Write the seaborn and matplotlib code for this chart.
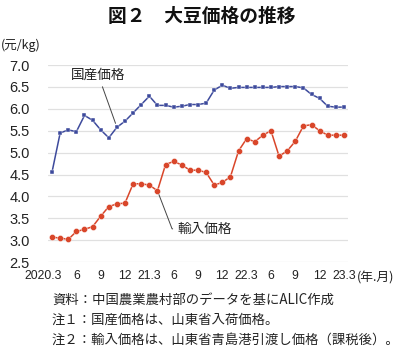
import numpy as np
import pandas as pd
import matplotlib
matplotlib.use("Agg")
import matplotlib.pyplot as plt
import matplotlib.transforms as mtransforms
import seaborn as sns

# ---- data ----
tick_labels = ["2020.3", "6", "9", "12", "21.3", "6", "9", "12",
               "22.3", "6", "9", "12", "23.3"]
domestic = [4.56, 5.45, 5.52, 5.48, 5.85, 5.74, 5.52, 5.34, 5.58, 5.72,
            5.91, 6.10, 6.29, 6.08, 6.08, 6.04, 6.06, 6.10, 6.10, 6.13,
            6.43, 6.54, 6.47, 6.49, 6.49, 6.49, 6.49, 6.49, 6.51, 6.51,
            6.51, 6.48, 6.33, 6.24, 6.06, 6.04, 6.04]
imported = [3.07, 3.05, 3.02, 3.20, 3.25, 3.31, 3.55, 3.77, 3.83, 3.85,
            4.29, 4.29, 4.26, 4.13, 4.73, 4.80, 4.72, 4.60, 4.60, 4.55,
            4.26, 4.32, 4.45, 5.04, 5.32, 5.25, 5.40, 5.50, 4.92, 5.04,
            5.26, 5.61, 5.64, 5.50, 5.40, 5.40, 5.40]
series_names = ["国産価格", "輸入価格"]
y_ticks = [2.5, 3.0, 3.5, 4.0, 4.5, 5.0, 5.5, 6.0, 6.5, 7.0]

title = "図２　大豆価格の推移"
unit_label = "(元/kg)"
x_unit = "(年.月)"
notes = ["資料：中国農業農村部のデータを基にALIC作成",
         "注１：国産価格は、山東省入荷価格。",
         "注２：輸入価格は、山東省青島港引渡し価格（課税後）。"]

BLUE = "#3d4a9c"
RED = "#d9462a"
JP = ["Noto Sans CJK JP", "DejaVu Sans"]

sns.set_theme(style="white")
plt.rcParams["font.family"] = ["Liberation Sans", "Noto Sans CJK JP", "DejaVu Sans"]

n = len(domestic)
idx = np.arange(n)
df = pd.DataFrame({
    "month": np.concatenate([idx, idx]),
    "price": domestic + imported,
    "series": [series_names[0]] * n + [series_names[1]] * n,
})

fig = plt.figure(figsize=(4, 3.5), dpi=100)
ax = fig.add_axes([0.12, 0.251, 0.75, 0.563])

sns.lineplot(data=df[df.series == series_names[0]], x="month", y="price",
             color=BLUE, marker="s", markersize=3.3, linewidth=1.1,
             markeredgecolor="white", markeredgewidth=0.3, ax=ax, legend=False)
sns.lineplot(data=df[df.series == series_names[1]], x="month", y="price",
             color=RED, marker="o", markersize=4.4, linewidth=1.1,
             markeredgecolor="white", markeredgewidth=0.3, ax=ax, legend=False)

ax.set_xlim(-0.5, n - 0.5)
ax.set_ylim(y_ticks[0], y_ticks[-1])
ax.set_xticks(idx[::3])
ax.set_xticklabels(tick_labels, fontsize=8.8, color="#222222")
ax.set_yticks(y_ticks)
ax.set_yticklabels([f"{v:.1f}" for v in y_ticks], fontsize=10.5, color="#222222")
ax.tick_params(axis="both", length=0)
ax.tick_params(axis="y", pad=13)
ax.tick_params(axis="x", pad=6)
ax.set_xlabel("")
ax.set_ylabel("")
ax.yaxis.grid(True, color="#e0e0e0", linewidth=0.9)
ax.xaxis.grid(False)
ax.set_axisbelow(True)
for s in ax.spines.values():
    s.set_visible(False)

# shift first x label slightly left as in reference
lab0 = ax.get_xticklabels()[0]
lab0.set_transform(lab0.get_transform() +
                   mtransforms.ScaledTranslation(-9 / 100, 0, fig.dpi_scale_trans))

# annotations
ax.annotate(series_names[0], xy=(8, domestic[8]), xytext=(5.7, 6.77),
            ha="center", va="center", fontsize=9.8, family=JP, color="#222222",
            arrowprops=dict(arrowstyle="-", color="#444444", lw=0.7,
                            shrinkA=1, shrinkB=3))
ax.annotate(series_names[1], xy=(13, imported[13]), xytext=(15.45, 3.26),
            ha="left", va="center", fontsize=9.8, family=JP, color="#222222",
            arrowprops=dict(arrowstyle="-", color="#444444", lw=0.7,
                            connectionstyle="angle,angleA=0,angleB=-69",
                            shrinkA=1, shrinkB=3))

# texts
fig.text(0.505, 1 - 16 / 350, title, ha="center", va="center",
         fontsize=13.5, fontweight="bold", family=JP, color="#111111")
fig.text(1 / 400, 1 - 45 / 350, unit_label, ha="left", va="center",
         fontsize=9, family=JP, color="#222222")
fig.text(357 / 400, 1 - 278 / 350, x_unit, ha="left", va="center",
         fontsize=9.2, family=JP, color="#222222")
for i, t in enumerate(notes):
    fig.text(52 / 400, 1 - (300 + 20 * i) / 350, t, ha="left", va="center",
             fontsize=9.6, family=JP, color="#222222")

fig.savefig("out.png", dpi=100)
